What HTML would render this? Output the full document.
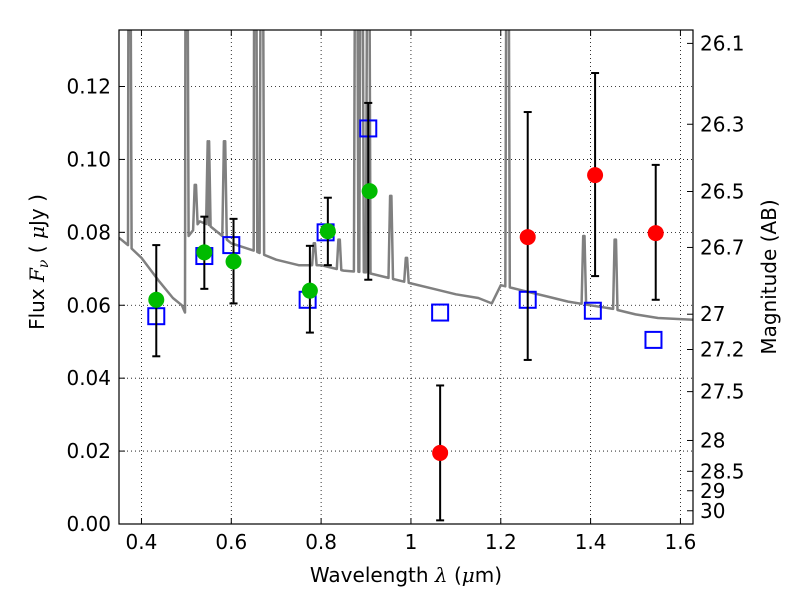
<!DOCTYPE html>
<html><head><meta charset="utf-8"><style>
body{margin:0;background:#fff;}
svg{display:block;font-family:"DejaVu Sans","Liberation Sans",sans-serif;}
</style></head><body>
<svg id="chart" width="800" height="600" viewBox="0 0 800 600"></svg>
<script>
const contLam=[0.35,0.37,0.40,0.44,0.47,0.49,0.497,0.505,0.53,0.55,0.60,0.65,0.70,0.75,0.80,0.85,0.90,0.95,1.00,1.05,1.10,1.15,1.18,1.20,1.25,1.30,1.35,1.40,1.45,1.50,1.55,1.63];
const contFlux=[0.0785,0.0765,0.073,0.0665,0.062,0.060,0.058,0.079,0.083,0.082,0.077,0.075,0.0725,0.071,0.071,0.0695,0.069,0.0675,0.066,0.0645,0.063,0.062,0.0605,0.0655,0.064,0.0625,0.061,0.060,0.059,0.0575,0.0565,0.056];
const lineLam=[0.373,0.50,0.52,0.549,0.585,0.653,0.668,0.785,0.84,0.878,0.89,0.905,0.955,0.99,1.215,1.385,1.455];
const linePeak=[0.2,0.2,0.093,0.105,0.105,0.2,0.2,0.077,0.078,0.2,0.2,0.2,0.09,0.073,0.2,0.079,0.078];
const sqLam=[0.433,0.54,0.60,0.77,0.81,0.905,1.065,1.26,1.405,1.54];
const sqFlux=[0.057,0.0735,0.0765,0.0615,0.080,0.1085,0.058,0.0615,0.0585,0.0505];
const gLam=[0.433,0.54,0.605,0.775,0.815,0.908];
const gFlux=[0.0615,0.0745,0.072,0.064,0.0803,0.0913];
const rLam=[1.065,1.26,1.41,1.545];
const rFlux=[0.0195,0.0787,0.0957,0.0798];
const ebLam=[0.433,0.54,0.605,0.775,0.815,0.905,1.065,1.26,1.41,1.545];
const ebLo=[0.046,0.0645,0.0605,0.0525,0.071,0.067,0.001,0.045,0.068,0.0615];
const ebHi=[0.0765,0.0843,0.0837,0.0763,0.0895,0.1155,0.038,0.113,0.1237,0.0985];
const xTicks=[0.4,0.6,0.8,1.0,1.2,1.4,1.6];
const xTickLabels=["0.4","0.6","0.8","1","1.2","1.4","1.6"];
const yTicks=[0,0.02,0.04,0.06,0.08,0.10,0.12];
const yTickLabels=["0.00","0.02","0.04","0.06","0.08","0.10","0.12"];
const magTicks=[26.1,26.3,26.5,26.7,27,27.2,27.5,28,28.5,29,30];
const magLabels=["26.1","26.3","26.5","26.7","27","27.2","27.5","28","28.5","29","30"];

const L=119,R=693,T=30,B=524,X0=0.35,X1=1.628,Y0=0,Y1=0.1355;
const sx=v=>L+(v-X0)/(X1-X0)*(R-L);
const sy=v=>B-(v-Y0)/(Y1-Y0)*(B-T);
const NS="http://www.w3.org/2000/svg";
const svg=document.getElementById('chart');
function mk(tag,attrs,parent){const e=document.createElementNS(NS,tag);for(const k in attrs)e.setAttribute(k,attrs[k]);(parent||svg).appendChild(e);return e;}
function txt(s,x,y,anchor,size,parent){const t=mk('text',{x:x,y:y,'text-anchor':anchor,'font-size':size,fill:'#000'},parent);t.textContent=s;return t;}

const defs=mk('defs',{});
const cp=mk('clipPath',{id:'clip'},defs);
mk('rect',{x:L,y:T,width:R-L,height:B-T},cp);

const grid=mk('g',{});


xTicks.forEach(v=>mk('line',{x1:sx(v),x2:sx(v),y1:T,y2:B,stroke:'#000','stroke-width':0.8,'stroke-dasharray':'1,3'},grid));
yTicks.forEach(v=>mk('line',{x1:L,x2:R,y1:sy(v),y2:sy(v),stroke:'#000','stroke-width':0.8,'stroke-dasharray':'1,3'},grid));

function cont(l){for(let i=0;i<contLam.length-1;i++){if(l>=contLam[i]&&l<=contLam[i+1]){const f=(l-contLam[i])/(contLam[i+1]-contLam[i]);return contFlux[i]+f*(contFlux[i+1]-contFlux[i]);}}return contFlux[contFlux.length-1];}
let pts=[];
contLam.forEach((l,i)=>pts.push([l,contFlux[i]]));
lineLam.forEach((l,i)=>{pts.push([l-0.005,cont(l-0.005)]);pts.push([l-0.0015,linePeak[i]]);pts.push([l+0.0015,linePeak[i]]);pts.push([l+0.005,cont(l+0.005)]);});
pts.sort((a,b)=>a[0]-b[0]);
const spec=mk('polyline',{points:pts.map(p=>sx(p[0]).toFixed(1)+','+sy(p[1]).toFixed(1)).join(' '),fill:'none',stroke:'#808080','stroke-width':2.5,'stroke-linejoin':'round','clip-path':'url(#clip)'});



const sq=mk('g',{});


sqLam.forEach((l,i)=>{const r=mk('rect',{x:sx(l)-8,y:sy(sqFlux[i])-8,width:16,height:16,fill:'none',stroke:'#0000ff','stroke-width':2},sq);

});

const eb=mk('g',{});


ebLam.forEach((l,i)=>{const x=sx(l);mk('line',{x1:x,x2:x,y1:sy(ebLo[i]),y2:sy(ebHi[i]),stroke:'#000','stroke-width':2},eb);
mk('line',{x1:x-4,x2:x+4,y1:sy(ebLo[i]),y2:sy(ebLo[i]),stroke:'#000','stroke-width':2},eb);
mk('line',{x1:x-4,x2:x+4,y1:sy(ebHi[i]),y2:sy(ebHi[i]),stroke:'#000','stroke-width':2},eb);});

const gd=mk('g',{});


gLam.forEach((l,i)=>{const c=mk('circle',{cx:sx(l),cy:sy(gFlux[i]),r:8,fill:'#00bb00'},gd);

});
const rd=mk('g',{});


rLam.forEach((l,i)=>{const c=mk('circle',{cx:sx(l),cy:sy(rFlux[i]),r:8,fill:'#ff0000'},rd);

});

const fr=mk('rect',{x:L,y:T,width:R-L,height:B-T,fill:'none',stroke:'#000','stroke-width':1.2});



const xa=mk('g',{});


xTicks.forEach((v,i)=>{mk('line',{x1:sx(v),x2:sx(v),y1:B,y2:B-6,stroke:'#000'},xa);mk('line',{x1:sx(v),x2:sx(v),y1:T,y2:T+6,stroke:'#000'},xa);txt(xTickLabels[i],sx(v),B+25,'middle',20,xa);});
const xt=mk('text',{x:406,y:582,'text-anchor':'middle','font-size':20,fill:'#000'});


xt.innerHTML='Wavelength  <tspan font-style="italic" font-family="DejaVu Serif, serif">λ</tspan> (<tspan font-style="italic" font-family="DejaVu Serif, serif">μ</tspan>m)';
xt.setAttribute('xml:space','preserve');

const ya=mk('g',{});


yTicks.forEach((v,i)=>{mk('line',{x1:L,x2:L+6,y1:sy(v),y2:sy(v),stroke:'#000'},ya);txt(yTickLabels[i],L-8,sy(v)+7,'end',20,ya);});
const yt=mk('text',{x:0,y:0,'text-anchor':'middle','font-size':20,fill:'#000',transform:'translate(44,262) rotate(-90)'});


yt.setAttribute('xml:space','preserve');
yt.innerHTML='Flux  <tspan font-style="italic" font-family="DejaVu Serif, serif">F<tspan font-size="14" dy="4">ν</tspan></tspan><tspan dy="-4">  (  </tspan><tspan font-style="italic" font-family="DejaVu Serif, serif">μ</tspan>Jy )';

const ra=mk('g',{});


magTicks.forEach((m,i)=>{const f=Math.pow(10,(23.9-m)/2.5);const y=sy(f);mk('line',{x1:R,x2:R-6,y1:y,y2:y,stroke:'#000'},ra);txt(magLabels[i],R+7,y+7,'start',20,ra);});
const rt=mk('text',{x:0,y:0,'text-anchor':'middle','font-size':20,fill:'#000',transform:'translate(776,277) rotate(-90)'});
rt.textContent='Magnitude (AB)';


</script>
</body></html>
